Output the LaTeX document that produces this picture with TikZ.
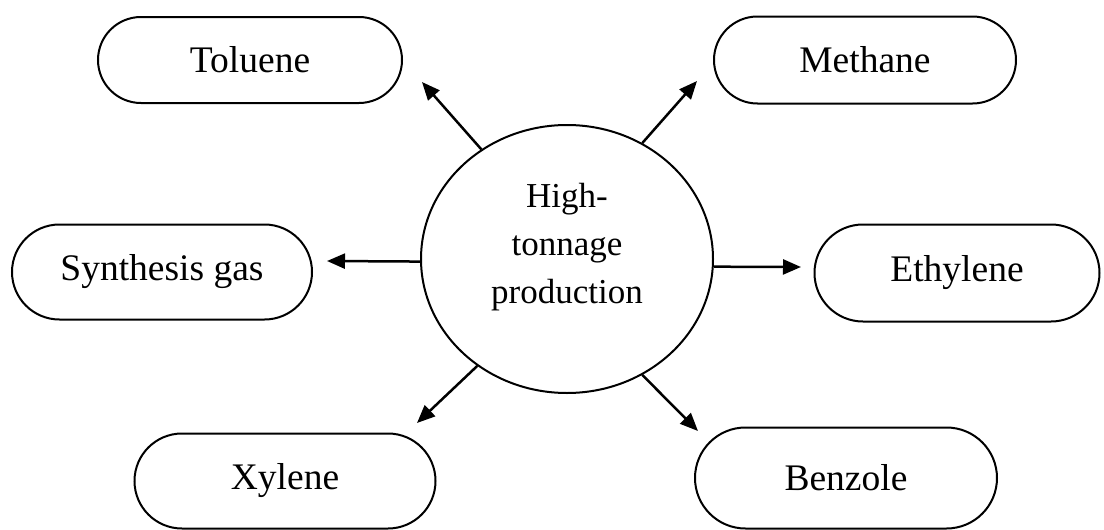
\documentclass[tikz,border=0pt]{standalone}
\usepackage{fontspec}
\setmainfont{Liberation Serif}
\usetikzlibrary{shapes.misc,shapes.geometric,arrows.meta}
\begin{document}
\begin{tikzpicture}[x=1pt,y=-1pt,
  prod/.style={rounded rectangle, draw, line width=2pt, inner sep=0pt,
    font=\fontsize{37.5}{45}\selectfont},
  hub/.style={ellipse, draw, line width=2pt, inner sep=0pt},
  hubtext/.style={align=center, inner sep=0pt, font=\fontsize{35}{48}\selectfont},
  arr/.style={line width=2.5pt, -{Triangle[length=18pt,width=15pt]}}]
\useasboundingbox (0,0) rectangle (1104,530);
\fill[white] (0,0) rectangle (1104,530);

\node[prod, minimum width=304pt, minimum height=86pt] (tol) at (250,60) {Toluene};
\node[prod, minimum width=302pt, minimum height=87pt] (met) at (865,60) {Methane};
\node[prod, minimum width=300pt, minimum height=95pt] (syn) at (162,272) {Synthesis gas};
\node[prod, minimum width=285pt, minimum height=97pt] (eth) at (957,273) {Ethylene};
\node[prod, minimum width=301pt, minimum height=95pt] (xyl) at (285,481) {Xylene};
\node[prod, minimum width=302pt, minimum height=101pt] (ben) at (846,478) {Benzole};

\node[hub, minimum width=292pt, minimum height=268pt] (c) at (567,259) {};
\node[hubtext] (ct) at (567,247) {High-\\tonnage\\production};

\coordinate (tTol) at (422,82);
\coordinate (tMet) at (697,81);
\coordinate (tSyn) at (327,261);
\coordinate (tEth) at (801,267);
\coordinate (tXyl) at (417,423);
\coordinate (tBen) at (698,431);

\draw[arr] (c.128) -- (tTol);
\draw[arr] (c.57) -- (tMet);
\draw[arr] (c.181) -- (tSyn);
\draw[arr] (c.-3) -- (tEth);
\draw[arr] (c.230) -- (tXyl);
\draw[arr] (c.303) -- (tBen);
\end{tikzpicture}
\end{document}
